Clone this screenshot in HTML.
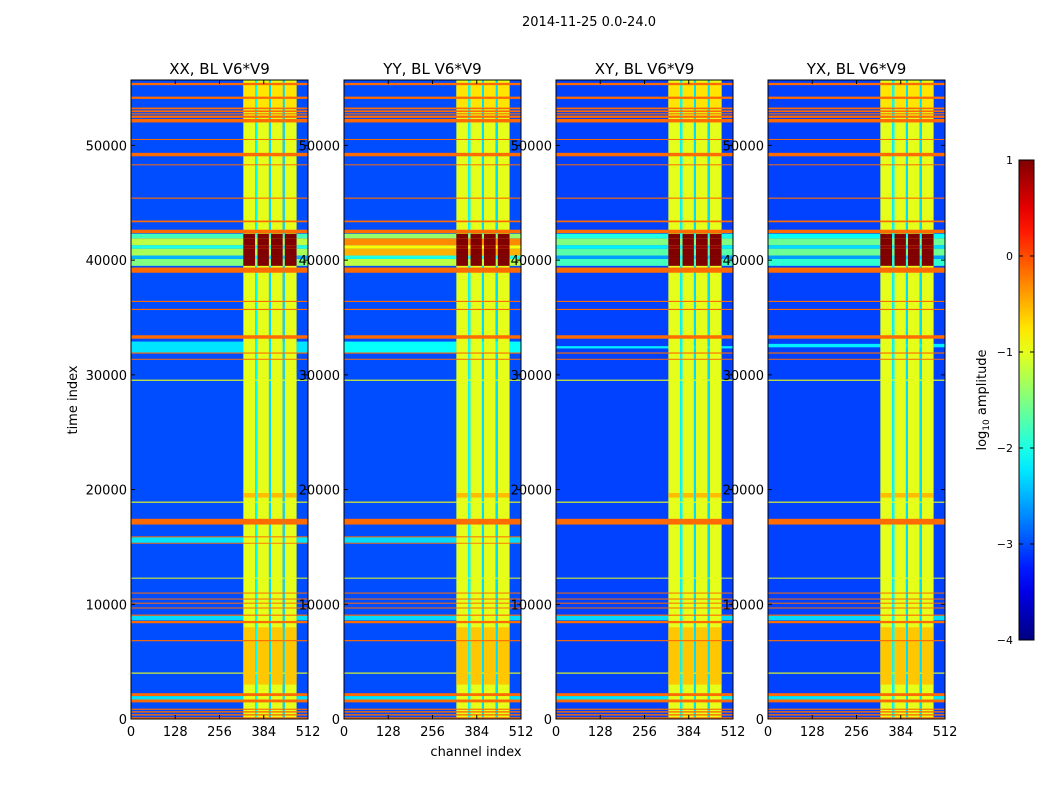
<!DOCTYPE html>
<html><head><meta charset="utf-8"><style>
body{margin:0;background:#fff;width:1050px;height:800px;overflow:hidden}
svg text{font-family:"DejaVu Sans","Liberation Sans",sans-serif}
</style></head><body>
<svg id="chart" width="1050" height="800" xmlns="http://www.w3.org/2000/svg">
<text x="589" y="26" font-size="13" text-anchor="middle">2014-11-25 0.0-24.0</text>
<text transform="translate(77,400) rotate(-90)" font-size="13" text-anchor="middle">time index</text>
<text x="476" y="756" font-size="13" text-anchor="middle">channel index</text>
</svg>
<script>
const xTicks=[0,128,256,384,512];
const yTicks=[0,10000,20000,30000,40000,50000];
const cbTicks=[1,0,-1,-2,-3,-4];
const cbTickLabels=["1","0","\u22121","\u22122","\u22123","\u22124"];
const panelTitles=["XX, BL V6*V9","YY, BL V6*V9","XY, BL V6*V9","YX, BL V6*V9"];
const bgLevels=[-3.0,-3.0,-3.05,-3.05];
const columns=[[325,359,-1.0],[359,366,-2.1],[366,399,-1.0],[399,405,-2.3],[405,439,-1.0],[439,445,-2.3],[445,479,-1.0]];
// [t0,t1,bgValue(null=keep),valueInColumns(null=max)]
const baseRows=[[0,150,-0.15,null],[300,420,-0.15,null],[560,680,-0.15,null],[800,900,-0.15,null],
[1450,1700,-0.15,null],[1700,2000,-2.25,null],[2000,2250,-0.15,null],[3950,4050,-1.0,null],
[3000,8000,null,-0.6],[6780,6880,-0.15,null],[8350,8550,-0.15,null],[8600,9000,-2.3,null],[9000,9100,-0.15,null],
[9650,9720,-0.15,null],[10080,10140,-0.15,null],[10430,10500,-0.15,null],[10950,11020,-0.15,null],
[12240,12320,-1.0,null],[16950,17450,-0.15,null],[18850,18950,-1.0,null],[19300,19700,null,-0.55],
[29480,29580,-1.0,null],[31330,31400,-0.15,null],[33150,33450,-0.15,null],
[35650,35750,-0.15,null],[36350,36450,-0.15,null],[38900,39350,-0.15,null],
[42350,42650,-0.15,null],[43300,43450,-0.15,null],[45350,45450,-0.15,null],[48280,48350,-0.15,null],
[49050,49350,-0.15,null],[50480,50560,-0.15,null],[52000,52300,-0.15,null],[52400,52600,-0.15,null],
[52700,52800,-0.15,null],[52900,53050,-0.15,null],[53150,53300,-0.15,null],[53300,55500,null,-0.75],
[54050,54250,-0.15,null],[55250,55450,-0.15,null]];
const cyanRowsXX=[[15300,15370,-0.15,null],[15370,15850,-2.25,null],[15850,15920,-0.15,null],[31850,31950,-0.15,null],[31950,32900,-2.25,null]];
const cyanRowsYY=[[15300,15370,-0.15,null],[15370,15850,-2.3,null],[15850,15920,-0.15,null],[31850,31950,-0.15,null],[31950,32900,-2.1,null]];
const cyanRowsXY=[[31850,31950,-0.15,null],[32300,32500,-2.2,null]];
const cyanRowsYX=[[31850,31950,-0.15,null],[32400,32700,-2.2,null]];
const hotRowsXX=[[39500,40100,-1.5,1.0],[40100,40400,-2.5,1.0],[40400,41000,-1.3,1.0],[41000,41300,-2.0,0.9],[41300,41900,-1.2,1.0],[41900,42300,-1.8,1.0]];
const hotRowsYY=[[39500,40100,-1.2,1.0],[40100,40400,-2.0,1.0],[40400,41000,-0.5,1.0],[41000,41300,-0.9,0.9],[41300,41900,-0.3,1.0],[41900,42300,-1.4,1.0]];
const hotRowsXY=[[39500,40100,-1.8,1.0],[40100,40400,-2.6,1.0],[40400,41000,-1.7,1.0],[41000,41300,-2.2,0.9],[41300,41900,-1.5,1.0],[41900,42300,-2.0,1.0]];
const hotRowsYX=[[39500,40100,-1.9,1.0],[40100,40400,-2.6,1.0],[40400,41000,-1.6,1.0],[41000,41300,-2.3,0.9],[41300,41900,-1.6,1.0],[41900,42300,-2.1,1.0]];
const panelRows=[baseRows.concat(cyanRowsXX,hotRowsXX),baseRows.concat(cyanRowsYY,hotRowsYY),baseRows.concat(cyanRowsXY,hotRowsXY),baseRows.concat(cyanRowsYX,hotRowsYX)];

const NS="http://www.w3.org/2000/svg";
const svg=document.getElementById('chart');
const panelLefts=[131,344,556,768], PW=177, PT=80, PB=719;
const T_MAX=55700, C_MAX=512, V_MIN=-4, V_MAX=1;
function jet(v){let x=(v-V_MIN)/(V_MAX-V_MIN);x=Math.max(0,Math.min(1,x));
 const c=t=>Math.round(255*Math.max(0,Math.min(1,1.5-Math.abs(4*x-t))));
 return `rgb(${c(3)},${c(2)},${c(1)})`;}
function el(tag,attrs,parent){const e=document.createElementNS(NS,tag);for(const k in attrs)e.setAttribute(k,attrs[k]);(parent||svg).appendChild(e);return e;}
function yScale(t){return PB-(t/T_MAX)*(PB-PT);}
panelLefts.forEach((L,p)=>{
 const xScale=c=>L+c/C_MAX*PW;
 const g=el('g',{});
 
 
 const bg=el('rect',{x:L,y:PT,width:PW,height:PB-PT,fill:jet(bgLevels[p])},g);
 
 
 columns.forEach(c=>{const r=el('rect',{x:xScale(c[0]),y:PT,width:xScale(c[1])-xScale(c[0]),height:PB-PT,fill:jet(c[2])},g);
  
  });
 panelRows[p].forEach(row=>{
  const y1=yScale(row[1]),y0=yScale(row[0]);const h=Math.max(1,y0-y1);
  let segs=[];let prev=0;
  columns.forEach(c=>{segs.push([prev,c[0],null]);segs.push([c[0],c[1],c[2]]);prev=c[1];});
  segs.push([prev,C_MAX,null]);
  segs.forEach(s=>{let v;
   if(s[2]===null){if(row[2]===null)return;v=row[2];}
   else if(s[2]<-1.5){if(row[2]===null)return;v=Math.max(row[2],s[2]);}
   else{v=row[3]!==null?row[3]:(row[2]===null?s[2]:Math.max(row[2],s[2]));}
   const r=el('rect',{x:xScale(s[0]),y:y1,width:xScale(s[1])-xScale(s[0]),height:h,fill:jet(v)},g);
   
   });
 });
 const fr=el('rect',{x:L,y:PT,width:PW,height:PB-PT,fill:'none',stroke:'#000','stroke-width':1},g);
 
 
 const tt=el('text',{x:L+PW/2,y:74,'font-size':15,'text-anchor':'middle'},g);tt.textContent=panelTitles[p];
 
 
 xTicks.forEach(t=>{const x=xScale(t);
  el('line',{x1:x,x2:x,y1:PB,y2:PB-4,stroke:'#000'},g);el('line',{x1:x,x2:x,y1:PT,y2:PT+4,stroke:'#000'},g);
  const tx=el('text',{x:x,y:PB+17,'font-size':13,'text-anchor':'middle'},g);tx.textContent=t;
  
  });
 yTicks.forEach(t=>{const y=yScale(t);
  el('line',{x1:L,x2:L+4,y1:y,y2:y,stroke:'#000'},g);el('line',{x1:L+PW,x2:L+PW-4,y1:y,y2:y,stroke:'#000'},g);
  const ty=el('text',{x:L-4,y:y+5,'font-size':13,'text-anchor':'end'},g);ty.textContent=t;
  
  });
});
// colorbar
const CBX=1019,CBW=15,CBT=160,CBB=640;
const defs=el('defs',{});const lg=el('linearGradient',{id:'jetg',x1:0,y1:1,x2:0,y2:0},defs);
for(let i=0;i<=20;i++){const v=V_MIN+(V_MAX-V_MIN)*i/20;el('stop',{offset:(i/20),'stop-color':jet(v)},lg);}
const cb=el('rect',{x:CBX,y:CBT,width:CBW,height:CBB-CBT,fill:'url(#jetg)',stroke:'#000'});


const cbY=v=>CBB-(v-V_MIN)/(V_MAX-V_MIN)*(CBB-CBT);
cbTicks.forEach((v,i)=>{const y=cbY(v);
 el('line',{x1:CBX,x2:CBX+4,y1:y,y2:y,stroke:'#000'});el('line',{x1:CBX+CBW,x2:CBX+CBW-4,y1:y,y2:y,stroke:'#000'});
 const t=el('text',{x:CBX-6,y:y+4,'font-size':11,'text-anchor':'end'});t.textContent=cbTickLabels[i];
 
 });
const cl=el('text',{transform:'translate(986,400) rotate(-90)','font-size':13,'text-anchor':'middle'});
cl.innerHTML='log<tspan font-size="9" dy="3">10</tspan><tspan dy="-3"> amplitude</tspan>';


</script>
</body></html>
